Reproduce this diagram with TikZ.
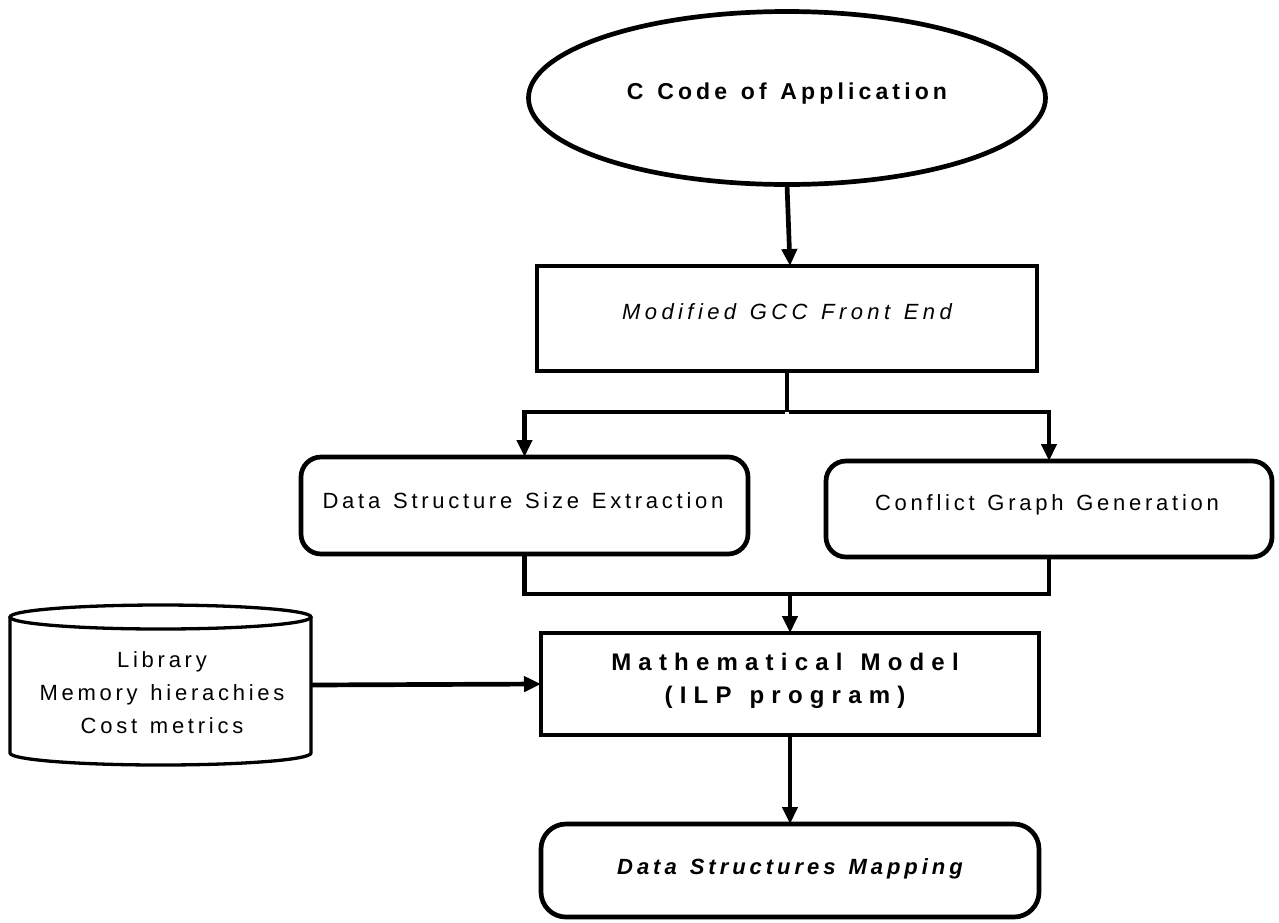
\documentclass[tikz,border=0pt]{standalone}
\usepackage{fontspec}
\setmainfont{Liberation Sans}
\newfontfamily\spaced[WordSpace=1.3]{Liberation Sans}
\newcommand\myls[3]{\spaced\fontsize{#1}{#2}\selectfont\addfontfeatures{LetterSpace=#3}}
\usetikzlibrary{arrows.meta,shapes.geometric,calc}
\begin{document}
\begin{tikzpicture}[x=1pt,y=-1pt,
  every node/.style={inner sep=0pt, outer sep=0pt},
  shapeline/.style={draw=black, line width=4.7pt},
  sqbox/.style={shapeline, rectangle},
  rbox/.style={shapeline, rectangle, rounded corners=20pt},
  txt/.style={font=\myls{22}{33}{17}, align=center},
  conn/.style={line width=4.7pt},
  arr/.style={conn, -{Triangle[length=17pt,width=15pt]}}
]
\useasboundingbox (0,0) rectangle (1279,922);
% shapes
\node[shapeline, ellipse, minimum width=517pt, minimum height=173pt] (app) at (787,98) {};
\node[txt, font=\bfseries\myls{23}{33}{18}] (appt) at (787,94) {C Code of Application};

\node[sqbox, minimum width=500pt, minimum height=105pt] (gcc) at (787,318.5) {};
\node[txt, font=\itshape\myls{22}{33}{20}] (gcct) at (787,312) {Modified GCC Front End};

\node[rbox, minimum width=447pt, minimum height=97pt] (dsse) at (524.5,505.5) {};
\node[txt] (dsset) at (523,501) {Data Structure Size Extraction};

\node[rbox, minimum width=446pt, minimum height=96pt] (cgg) at (1049,509) {};
\node[txt] (cggt) at (1047,505) {Conflict Graph Generation};

\node[sqbox, minimum width=498pt, minimum height=102pt] (math) at (790,684) {};
\node[txt, font=\bfseries\myls{24}{33}{30}] (matht) at (785,681) {Mathematical Model\\(ILP program)};

\node[rbox, rounded corners=25pt, minimum width=498pt, minimum height=93pt] (map) at (790,870.5) {};
\node[txt, font=\bfseries\itshape\myls{22}{33}{18}] (mapt) at (790,869) {Data Structures Mapping};

% cylinder
\node[minimum width=301pt, minimum height=136pt] (lib) at (160.5,685) {};
\draw[line width=3.3pt] (10,617) -- (10,753) arc[start angle=180, end angle=360, x radius=150.5pt, y radius=12pt] -- (311,617);
\draw[line width=3.3pt] (160.5,617) ellipse[x radius=150.5pt, y radius=12pt];
\node[txt, font=\myls{22}{33}{17}] (libt) at (162,693) {Library\\Memory hierachies\\Cost metrics};

% connectors
\draw[arr] (app.south) -- ([xshift=3pt]gcc.north);
\draw[conn] (gcc.south) -- ++(0,41) coordinate (split);
\draw[arr] ([xshift=-2.35pt]split) -| (dsse.north);
\draw[arr] ([xshift=2.35pt]split) -| (cgg.north);
\draw[conn] (dsse.south) |- ($(cgg.south)+(0,37)$) -- (cgg.south);
\coordinate (join) at ($(dsse.south)!0.5!(cgg.south) + (0,37)$);
\draw[arr] (math.north |- join) -- (math.north);
\draw[arr] (lib.east) -- (math.west);
\draw[arr] (math.south) -- (map.north);
\end{tikzpicture}
\end{document}
